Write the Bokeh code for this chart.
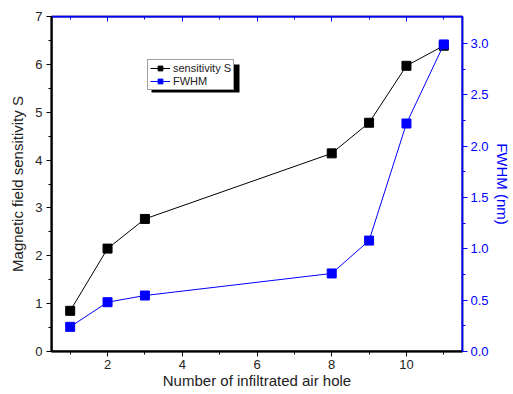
from bokeh.plotting import figure
from bokeh.models import (Range1d, LinearAxis, Legend, LegendItem, BoxAnnotation,
                          FixedTicker, PrintfTickFormatter)
from bokeh.embed import file_html
from bokeh.resources import INLINE

holes = [1, 2, 3, 8, 9, 10, 11]
sensitivity = [0.85, 2.15, 2.77, 4.14, 4.78, 5.97, 6.39]
fwhm = [0.24, 0.48, 0.545, 0.76, 1.08, 2.22, 2.99]

x_major = [2, 4, 6, 8, 10]
x_minor = [1, 3, 5, 7, 9, 11]
left_major = [0, 1, 2, 3, 4, 5, 6, 7]
left_minor = [0.5, 1.5, 2.5, 3.5, 4.5, 5.5, 6.5]
right_major = [0.0, 0.5, 1.0, 1.5, 2.0, 2.5, 3.0]
right_minor = [0.25, 0.75, 1.25, 1.75, 2.25, 2.75]

FONT = "Liberation Sans"
BLUE = "#0000ff"
TXT = "#222222"

xr = Range1d(0.5, 11.5)
yr = Range1d(0, 7)
p = figure(width=513, height=394, output_backend="svg", toolbar_location=None,
           x_range=xr, y_range=yr,
           min_border_left=51, min_border_right=51, min_border_top=16, min_border_bottom=43)
p.extra_y_ranges = {"fwhm": Range1d(0, 3.262)}
p.grid.visible = False
p.outline_line_color = "black"
p.outline_line_width = 1.5
p.border_fill_color = None
p.background_fill_color = None
p.xaxis.visible = False
p.yaxis.visible = False

xa = LinearAxis(ticker=FixedTicker(ticks=x_major, minor_ticks=x_minor),
                axis_label="Number of infiltrated air hole")
ya = LinearAxis(ticker=FixedTicker(ticks=left_major, minor_ticks=left_minor),
                axis_label="Magnetic field sensitivity S")

for ax in (xa, ya):
    ax.axis_line_color = "black"
    ax.axis_line_width = 2
    ax.major_tick_line_color = "black"
    ax.minor_tick_line_color = "black"
    ax.major_tick_line_width = 1
    ax.major_tick_in = 0
    ax.major_tick_out = 5
    ax.minor_tick_in = 0
    ax.minor_tick_out = 3
    ax.major_label_text_font = FONT
    ax.major_label_text_font_size = "13px"
    ax.major_label_text_color = TXT
    ax.axis_label_text_font = FONT
    ax.axis_label_text_font_size = "15px"
    ax.axis_label_text_font_style = "normal"
    ax.axis_label_text_color = TXT
xa.axis_label_standoff = 0
xa.major_label_standoff = 3
ya.axis_label_standoff = 6
ya.major_label_standoff = 4
p.add_layout(ya, "left")
p.add_layout(xa, "below")

ra = LinearAxis(y_range_name="fwhm", axis_label="FWHM (nm)",
                ticker=FixedTicker(ticks=right_major, minor_ticks=right_minor),
                formatter=PrintfTickFormatter(format="%.1f"))
ra.axis_line_color = BLUE
ra.axis_line_width = 1.5
ra.major_tick_line_color = BLUE
ra.minor_tick_line_color = BLUE
ra.major_tick_in = 0
ra.major_tick_out = 5
ra.minor_tick_in = 0
ra.minor_tick_out = 3
ra.major_label_text_font = FONT
ra.major_label_text_font_size = "13px"
ra.major_label_text_color = BLUE
ra.axis_label_text_font = FONT
ra.axis_label_text_font_size = "15px"
ra.axis_label_text_font_style = "normal"
ra.axis_label_text_color = BLUE
ra.major_label_standoff = 3
ra.axis_label_standoff = 2
p.add_layout(ra, "right")

ta = LinearAxis(ticker=FixedTicker(ticks=x_major, minor_ticks=x_minor))
ta.axis_line_color = BLUE
ta.axis_line_width = 1.5
ta.major_tick_line_color = BLUE
ta.minor_tick_line_color = BLUE
ta.major_tick_in = 5
ta.major_tick_out = 0
ta.minor_tick_in = 3
ta.minor_tick_out = 0
ta.major_label_overrides = {t: "" for t in x_major}
ta.major_label_standoff = 0
p.add_layout(ta, "above")

# frame edges derived from the ranges (fallback so the frame is always visible)
p.segment(x0=[xr.start], y0=[yr.start], x1=[xr.start], y1=[yr.end], line_color="black", line_width=2)
p.segment(x0=[xr.start], y0=[yr.start], x1=[xr.end], y1=[yr.start], line_color="black", line_width=2)
p.segment(x0=[xr.start], y0=[yr.end], x1=[xr.end], y1=[yr.end], line_color=BLUE, line_width=2)
p.segment(x0=[xr.end], y0=[yr.start], x1=[xr.end], y1=[yr.end], line_color=BLUE, line_width=2)

l1 = p.line(holes, sensitivity, line_color="black", line_width=1)
m1 = p.scatter(holes, sensitivity, marker="square", size=9, fill_color="black", line_color="black")
l2 = p.line(holes, fwhm, line_color=BLUE, line_width=1, y_range_name="fwhm")
m2 = p.scatter(holes, fwhm, marker="square", size=9, fill_color=BLUE, line_color=BLUE, y_range_name="fwhm")

shadow = BoxAnnotation(left=3.177, right=5.532, bottom=5.41, top=5.997,
                       fill_color="black", fill_alpha=1, line_color=None)
p.add_layout(shadow)

legend = Legend(items=[LegendItem(label="sensitivity S", renderers=[l1, m1]),
                       LegendItem(label="FWHM", renderers=[l2, m2])],
                location=(96, 261), orientation="vertical")
legend.label_text_font = FONT
legend.label_text_font_size = "11px"
legend.label_text_color = TXT
legend.glyph_width = 20
legend.glyph_height = 12
legend.label_height = 12
legend.label_standoff = 3
legend.spacing = 1
legend.padding = 2
legend.margin = 0
legend.border_line_color = "#444444"
legend.border_line_width = 1
legend.background_fill_color = "white"
legend.background_fill_alpha = 1
p.add_layout(legend, "center")

open("out.html", "w").write(file_html(p, INLINE))
